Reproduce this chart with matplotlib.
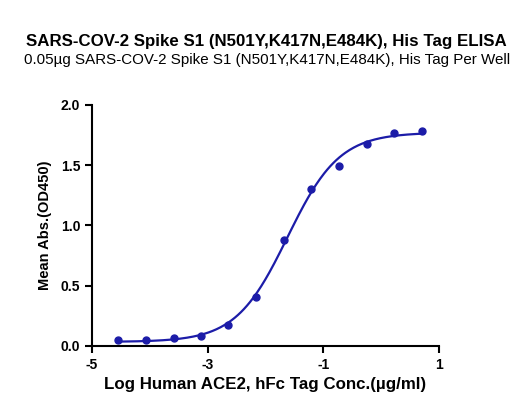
import matplotlib
matplotlib.use("Agg")
import matplotlib.pyplot as plt
import numpy as np

plt.rcParams['font.family'] = ['Liberation Sans', 'DejaVu Sans']
plt.rcParams['axes.unicode_minus'] = False

# 3-fold dilution series, log10 of conc (ug/ml)
log_conc = [-4.55, -4.07, -3.59, -3.12, -2.64, -2.16, -1.68, -1.21, -0.73, -0.25, 0.23, 0.70]
od450 = [0.050, 0.050, 0.064, 0.085, 0.170, 0.410, 0.877, 1.300, 1.495, 1.680, 1.765, 1.787]

title = "SARS-COV-2 Spike S1 (N501Y,K417N,E484K), His Tag ELISA"
subtitle = "0.05\u00b5g SARS-COV-2 Spike S1 (N501Y,K417N,E484K), His Tag Per Well"
xlabel = "Log Human ACE2, hFc Tag Conc.(\u00b5g/ml)"
ylabel = "Mean Abs.(OD450)"
color = "#1c1ca8"


def four_pl(x, bottom, top, logec50, hill):
    return bottom + (top - bottom) / (1 + 10 ** ((logec50 - x) * hill))


# crude 4PL fit: grid over ec50/hill, linear least squares for bottom/top
x = np.array(log_conc)
y = np.array(od450)
best = None
for ec in np.linspace(-2.5, -0.8, 171):
    for h in np.linspace(0.5, 2.5, 201):
        s = 1 / (1 + 10 ** ((ec - x) * h))
        A = np.column_stack([1 - s, s])
        coef, *_ = np.linalg.lstsq(A, y, rcond=None)
        err = np.sum((A @ coef - y) ** 2)
        if best is None or err < best[0]:
            best = (err, coef[0], coef[1], ec, h)
_, b, t, ec, h = best

fig = plt.figure(figsize=(5.25, 4.11), dpi=100)
ax = fig.add_axes([0.1752, 0.1582, 0.661, 0.5864])

xs = np.linspace(x.min(), x.max(), 300)
ax.plot(xs, four_pl(xs, b, t, ec, h), color=color, lw=1.6)
ax.plot(x, y, 'o', color=color, ms=5)

ax.set_xlim(-5, 1)
ax.set_ylim(0, 2.0)
ax.set_xticks([-5, -3, -1, 1])
ax.set_yticks([0, 0.5, 1.0, 1.5, 2.0])
ax.set_yticklabels(["0.0", "0.5", "1.0", "1.5", "2.0"])
for s in ['top', 'right']:
    ax.spines[s].set_visible(False)
for s in ['left', 'bottom']:
    ax.spines[s].set_linewidth(1.5)
ax.tick_params(direction='out', width=1.5, length=5, labelsize=10)
for lab in ax.get_xticklabels() + ax.get_yticklabels():
    lab.set_fontweight('bold')
ax.set_xlabel(xlabel, fontsize=12.2, fontweight='bold', labelpad=4)
ax.set_ylabel(ylabel, fontsize=10.5, fontweight='bold', labelpad=6)

fig.text(0.508, 0.898, title, ha='center', va='center', fontsize=12.2, fontweight='bold')
fig.text(0.508, 0.853, subtitle, ha='center', va='center', fontsize=10.9)

fig.savefig("out.png", dpi=100)
